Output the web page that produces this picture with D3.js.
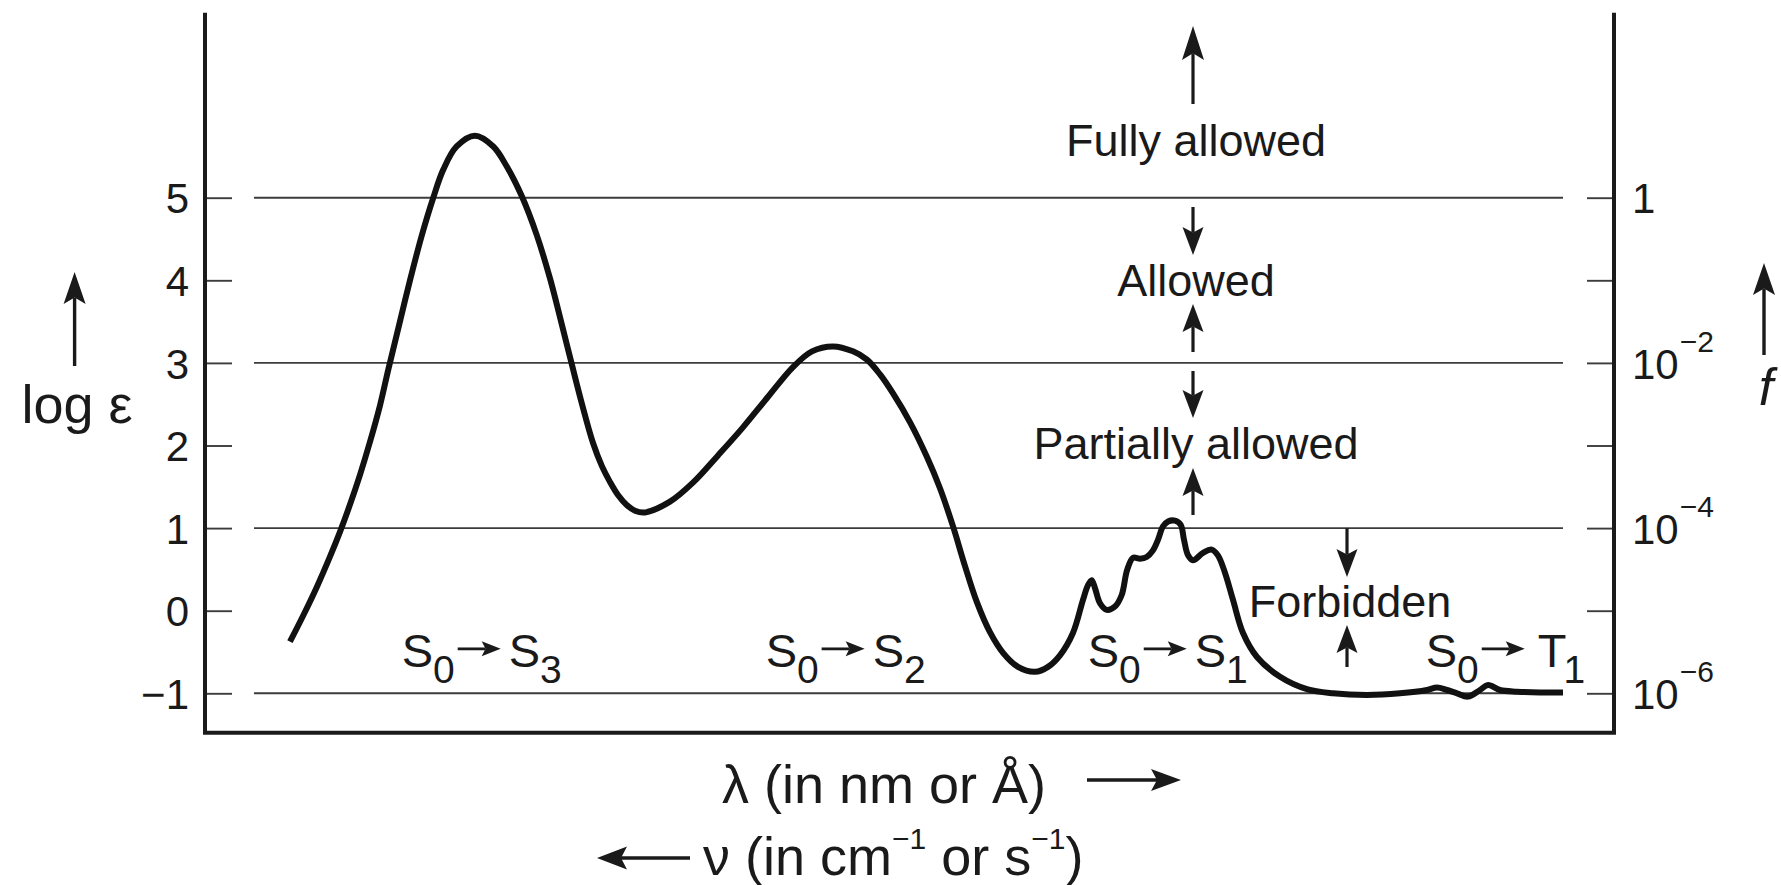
<!DOCTYPE html>
<html><head><meta charset="utf-8">
<script src="https://cdn.jsdelivr.net/npm/d3@7"></script>
<style>
html,body{margin:0;padding:0;background:#fff;}
svg{display:block;}
text{font-family:"Liberation Sans",Arial,Helvetica,sans-serif;fill:#1a1a1a;}
</style></head><body>
<svg id="chart" width="1781" height="885"></svg>
<script>
// ---------- DATA ----------
// relative wavelength position along the λ axis (arbitrary units, 0–100)
const lambdaPos = [6.03,6.98,7.93,8.87,9.58,10.29,11.00,11.71,12.42,13.01,13.72,14.55,15.38,16.20,16.91,17.86,19.16,20.46,21.41,22.48,23.54,24.49,25.20,25.98,26.76,27.54,28.17,28.74,29.31,29.93,30.52,31.23,33.00,34.63,36.41,38.18,39.96,41.73,43.08,44.57,45.99,46.98,47.91,48.83,50.04,51.24,52.17,53.09,53.94,54.79,55.71,56.64,57.70,58.91,59.83,60.68,61.60,62.31,62.67,62.93,63.17,63.52,64.00,64.58,65.06,65.44,65.86,66.36,66.83,67.28,67.64,67.99,68.35,68.84,69.25,69.48,69.77,70.12,70.83,71.45,71.89,72.39,72.96,73.67,74.66,76.30,78.21,80.06,82.47,84.81,86.73,87.44,88.15,88.86,89.64,90.49,91.06,91.91,93.12,94.75,96.38];
// log ε values of the absorption curve
const logEps = [-0.375,-0.055,0.285,0.655,0.955,1.285,1.645,2.045,2.485,2.92,3.42,4.00,4.54,5.00,5.34,5.62,5.75,5.62,5.38,5.02,4.55,4.02,3.55,3.02,2.50,2.03,1.75,1.56,1.40,1.28,1.21,1.19,1.32,1.55,1.88,2.22,2.59,2.95,3.14,3.20,3.14,3.04,2.86,2.63,2.28,1.86,1.48,1.02,0.54,0.10,-0.26,-0.51,-0.68,-0.74,-0.68,-0.54,-0.27,0.13,0.31,0.37,0.27,0.09,0.01,0.05,0.19,0.49,0.64,0.63,0.65,0.73,0.86,1.02,1.08,1.09,1.04,0.86,0.67,0.61,0.70,0.74,0.67,0.46,0.13,-0.27,-0.56,-0.80,-0.95,-1.00,-1.02,-1.00,-0.96,-0.93,-0.96,-1.00,-1.04,-0.96,-0.90,-0.96,-0.98,-0.99,-0.99];
const leftTickValues = [-1,0,1,2,3,4,5];
const leftTickLabels = ["\u22121","0","1","2","3","4","5"];
const gridValues = [-1,1,3,5];
const fTickValues = [1,1e-1,1e-2,1e-3,1e-4,1e-5,1e-6];
const fTickExponents = [0,-1,-2,-3,-4,-5,-6];
const transitions = [
  {from:"S",fromSub:"0",to:"S",toSub:"3"},
  {from:"S",fromSub:"0",to:"S",toSub:"2"},
  {from:"S",fromSub:"0",to:"S",toSub:"1"},
  {from:"S",fromSub:"0",to:"T",toSub:"1"}
];
const classLabels = ["Fully allowed","Allowed","Partially allowed","Forbidden"];

// ---------- LAYOUT ----------
const X0 = 205, X1 = 1614, YTOP = 12.7, YBOT = 732.7;
const svg = d3.select("#chart");
const x = d3.scaleLinear().domain([0,100]).range([X0,X1]);
const y = d3.scaleLinear().domain([-1,5]).range([693.3,197.7]);
const yF = d3.scaleLog().domain([1e-6,1]).range([y(-1),y(5)]);
const INK = "#1a1a1a";
const FONT = '"Liberation Sans",Arial,sans-serif';

function arrow(g, x1, y1, x2, y2, o) {
  o = Object.assign({len:28, wid:21, sw:3.2}, o||{});
  const dx = x2-x1, dy = y2-y1, d = Math.hypot(dx,dy), ux = dx/d, uy = dy/d;
  const px = -uy, py = ux;
  const bx = x2 - ux*o.len, by = y2 - uy*o.len;
  const nx = x2 - ux*o.len*0.8, ny = y2 - uy*o.len*0.8;
  g.append("line").attr("x1",x1).attr("y1",y1).attr("x2",nx).attr("y2",ny)
    .attr("stroke",INK).attr("stroke-width",o.sw);
  g.append("path").attr("d",`M${x2},${y2}L${bx+px*o.wid/2},${by+py*o.wid/2}L${nx},${ny}L${bx-px*o.wid/2},${by-py*o.wid/2}Z`)
    .attr("fill",INK);
}

// gridlines
svg.append("g").selectAll("line").data(gridValues).join("line")
  .attr("x1",254).attr("x2",1563).attr("y1",d=>y(d)).attr("y2",d=>y(d))
  .attr("stroke","#3c3c3c").attr("stroke-width",1.9);

// left axis ticks + labels
const gL = svg.append("g").attr("transform",`translate(${X0},0)`)
  .call(d3.axisLeft(y).tickValues(leftTickValues).tickFormat((d,i)=>leftTickLabels[i])
    .tickSizeInner(-27).tickSizeOuter(0).tickPadding(16));
gL.select(".domain").remove();
gL.selectAll(".tick line").attr("stroke","#3c3c3c").attr("stroke-width",1.9);
gL.selectAll(".tick text").attr("font-size",42).attr("dy","0.36em")
  .attr("font-family",FONT).attr("fill",INK);

// right axis ticks + labels (oscillator strength f)
const gR = svg.append("g").attr("transform",`translate(${X1},0)`)
  .call(d3.axisRight(yF).tickValues(fTickValues).tickFormat(()=> "")
    .tickSizeInner(-27).tickSizeOuter(0).tickPadding(18));
gR.select(".domain").remove();
gR.selectAll(".tick line").attr("stroke","#3c3c3c").attr("stroke-width",1.9);
gR.selectAll(".tick text").each(function(d,i){
  const e = fTickExponents[i];
  const t = d3.select(this).attr("font-size",42).attr("dy","0.36em")
    .attr("font-family",FONT).attr("fill",INK).text(null);
  if (e === 0) t.text("1");
  else if (e % 2 === 0) {
    t.append("tspan").text("10");
    t.append("tspan").attr("font-size",30).attr("dy",-27).attr("dx",1).text("\u2212"+(-e));
  }
});

// frame
svg.append("path").attr("d",`M${X0},${YTOP}V${YBOT}H${X1}V${YTOP}`)
  .attr("fill","none").attr("stroke",INK).attr("stroke-width",4).attr("stroke-linejoin","miter");

// curve
const pts = lambdaPos.map((p,i)=>[p,logEps[i]]);
svg.append("path").datum(pts)
  .attr("d", d3.line().x(d=>x(d[0])).y(d=>y(d[1])).curve(d3.curveCatmullRom.alpha(0.5)))
  .attr("fill","none").attr("stroke","#111").attr("stroke-width",6)
  .attr("stroke-linecap","butt").attr("stroke-linejoin","round");

// transition labels
const tg = svg.append("g");
const transX = [13.96,39.79,62.65,86.64];
const labelBase = y(-0.68);
transitions.forEach((t,i)=>{
  const x0 = x(transX[i]);
  const a = tg.append("text").attr("x",x0).attr("y",labelBase).attr("font-size",47);
  a.append("tspan").text(t.from);
  a.append("tspan").attr("font-size",39).attr("dy",16).text(t.fromSub);
  arrow(tg, x0+56, labelBase-18, x0+99, labelBase-18, {len:19, wid:15, sw:2.8});
  const b = tg.append("text").attr("x",x0+(t.to==="T"?112:107)).attr("y",labelBase).attr("font-size",47);
  b.append("tspan").text(t.to);
  b.append("tspan").attr("font-size",39).attr("dy",16).attr("dx",t.to==="T"?-3:0).text(t.toSub);
});

// strength-class annotations
const ag = svg.append("g");
const AX = 1193, TX = 1196;
arrow(ag, AX, 104, AX, 26, {len:34, wid:22});
ag.append("text").attr("x",TX).attr("y",156).attr("text-anchor","middle").attr("font-size",45).text(classLabels[0]);
arrow(ag, AX, 207, AX, 255);
ag.append("text").attr("x",TX).attr("y",296).attr("text-anchor","middle").attr("font-size",45).text(classLabels[1]);
arrow(ag, AX, 352, AX, 304);
arrow(ag, AX, 371, AX, 418);
ag.append("text").attr("x",TX).attr("y",459).attr("text-anchor","middle").attr("font-size",45).text(classLabels[2]);
arrow(ag, AX, 515, AX, 468);
const FX = 1347;
arrow(ag, FX, y(1), FX, 577);
ag.append("text").attr("x",1350).attr("y",617).attr("text-anchor","middle").attr("font-size",45).text(classLabels[3]);
arrow(ag, FX, 667, FX, 625);

// axis titles
const lg = svg.append("g");
arrow(lg, 74.6, 366, 74.6, 272, {len:32, wid:22, sw:3.4});
lg.append("text").attr("x",77).attr("y",423).attr("text-anchor","middle").attr("font-size",54).text("log \u03b5");
arrow(lg, 1764, 355, 1764, 263, {len:32, wid:22, sw:3.4});
lg.append("text").attr("x",1766).attr("y",405).attr("text-anchor","middle").attr("font-size",52)
  .attr("font-style","italic").text("f");
lg.append("text").attr("x",722).attr("y",803).attr("font-size",54).text("\u03bb (in nm or \u00c5)");
arrow(lg, 1087, 780, 1181, 780, {len:30, wid:22, sw:3.4});
const nu = lg.append("text").attr("x",703).attr("y",875).attr("font-size",54);
nu.append("tspan").text("\u03bd (in cm");
nu.append("tspan").attr("font-size",30).attr("dy",-26).text("\u22121");
nu.append("tspan").attr("dy",26).text(" or s");
nu.append("tspan").attr("font-size",30).attr("dy",-26).text("\u22121");
nu.append("tspan").attr("dy",26).text(")");
arrow(lg, 690, 858, 597, 858, {len:30, wid:23, sw:3.4});
</script>
</body></html>
